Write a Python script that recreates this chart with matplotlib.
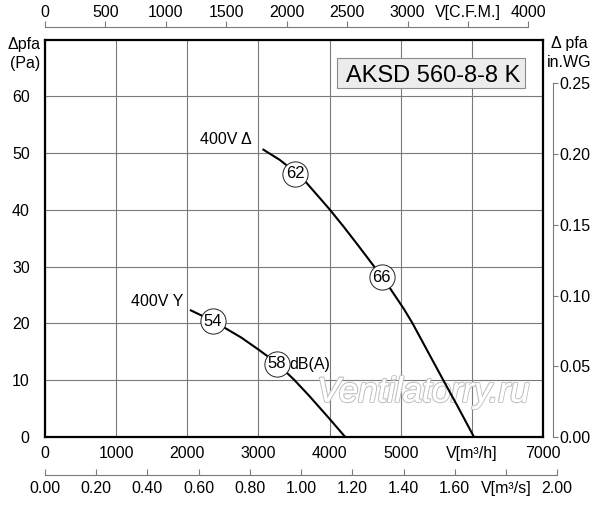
import matplotlib
matplotlib.use('Agg')
import matplotlib.pyplot as plt
import matplotlib.patheffects as pe
from matplotlib.patches import Rectangle

plt.rcParams['font.family'] = ['Liberation Sans', 'DejaVu Sans']

# Kennlinien (V in m3/h, dp in Pa)
delta_x = [3070, 3300, 3520, 3680, 4000, 4200, 4410, 4640, 4860, 5047, 5167, 5400, 5590, 5800, 6030]
delta_y = [50.6, 48.8, 46.6, 44.7, 40.1, 37.0, 33.6, 29.8, 26.0, 22.5, 20.0, 14.6, 10.2, 5.4, 0.0]
stern_x = [2050, 2200, 2355, 2530, 2760, 3000, 3120, 3255, 3400, 3500, 3710, 4000, 4220]
stern_y = [22.3, 21.4, 20.4, 19.2, 17.5, 15.4, 14.3, 12.9, 11.3, 10.1, 7.3, 3.2, 0.0]

# Schallpegel-Marken dB(A)
db_x = [2355, 3255, 3520, 4735]
db_y = [20.4, 12.9, 46.4, 28.1]
db_txt = ['54', '58', '62', '66']

# Achsen
m3h_ticks = [0, 1000, 2000, 3000, 4000, 5000, 6000, 7000]
m3h_labels = ['0', '1000', '2000', '3000', '4000', '5000', 'V[m³/h]', '7000']
pa_ticks = [0, 10, 20, 30, 40, 50, 60]
cfm_ticks = [0, 500, 1000, 1500, 2000, 2500, 3000, 3500, 4000]
cfm_labels = ['0', '500', '1000', '1500', '2000', '2500', '3000', 'V[C.F.M.]', '4000']
m3s_ticks = [0.0, 0.2, 0.4, 0.6, 0.8, 1.0, 1.2, 1.4, 1.6, 1.8, 2.0]
m3s_labels = ['0.00', '0.20', '0.40', '0.60', '0.80', '1.00', '1.20', '1.40', '1.60', 'V[m³/s]', '2.00']
inwg_ticks = [0.0, 0.05, 0.10, 0.15, 0.20, 0.25]

CFM = 1.699    # m3/h pro CFM
INWG = 249.09  # Pa pro in.WG

fs = 11.5
grau = '#7a7a7a'

fig = plt.figure(figsize=(6, 5.05), dpi=100)
ax = fig.add_axes([45 / 600, 1 - 437 / 505, 498 / 600, 397.5 / 505])
ax.set_xlim(0, 7000)
ax.set_ylim(0, 70)

ax.set_xticks(m3h_ticks)
ax.set_xticklabels(m3h_labels)
ax.set_yticks(pa_ticks)
ax.tick_params(axis='both', length=0, labelsize=fs)
ax.tick_params(axis='x', pad=6.5)
ax.tick_params(axis='y', pad=11)
ax.grid(True, color=grau, lw=0.8)
ax.set_axisbelow(True)
for s in ax.spines.values():
    s.set_linewidth(1.6)

# obere Achse CFM
top = ax.secondary_xaxis(1 + 12.5 / 397.5, functions=(lambda v: v / CFM, lambda c: c * CFM))
top.set_xticks(cfm_ticks)
top.set_xticklabels(cfm_labels)
top.tick_params(direction='out', length=4, width=0.8, color=grau, labelsize=fs, pad=1)
top.spines['top'].set_bounds(0, 4000)
top.spines['top'].set_color(grau)
top.spines['top'].set_linewidth(0.8)

# untere Achse m3/s (eigene Achse, reicht bis 2.00 = 7200 m3/h)
m3h_pro_px = 7000 / 498
bot = fig.add_axes([45 / 600, 1 - 475 / 505, (7200 / m3h_pro_px) / 600, 0.002])
bot.set_xlim(0, 2.0)
bot.patch.set_visible(False)
for k in ['top', 'left', 'right']:
    bot.spines[k].set_visible(False)
bot.spines['bottom'].set_color(grau)
bot.spines['bottom'].set_linewidth(0.8)
bot.set_yticks([])
bot.set_xticks(m3s_ticks)
bot.set_xticklabels(m3s_labels)
bot.tick_params(axis='x', direction='in', length=4.3, width=0.8, color=grau, labelsize=fs, pad=4)

# rechte Achse in.WG
rgt = ax.secondary_yaxis(1 + 10 / 498, functions=(lambda p: p / INWG, lambda w: w * INWG))
rgt.set_yticks(inwg_ticks)
rgt.set_yticklabels(['%.2f' % t for t in inwg_ticks])
rgt.tick_params(direction='out', length=3.6, width=0.8, color=grau, labelsize=fs, pad=1)
rgt.spines['right'].set_bounds(0, 0.25)
rgt.spines['right'].set_color(grau)
rgt.spines['right'].set_linewidth(0.8)

fig.text(40 / 600, 1 - 54 / 505, 'Δpfa\n(Pa)', ha='right', va='center', fontsize=fs,
         multialignment='right', linespacing=1.3)
fig.text(569 / 600, 1 - 53 / 505, 'Δ pfa\nin.WG', ha='center', va='center', fontsize=fs,
         multialignment='center', linespacing=1.3)

# Wasserzeichen
ax.text(5320, 7.9, 'Ventilatorry.ru', fontsize=25, style='italic', color='white',
        ha='center', va='center', zorder=2,
        path_effects=[pe.withStroke(linewidth=1.8, foreground='#c4c4c4')])
ax.text(5320, 7.9, 'Ventilatorry.ru', fontsize=25, style='italic', color='white',
        ha='center', va='center', zorder=2.1)

# Kurven
ax.plot(delta_x, delta_y, color='black', lw=1.5, zorder=3)
ax.plot(stern_x, stern_y, color='black', lw=1.5, zorder=3)

ax.scatter(db_x, db_y, s=330, facecolor='white', edgecolor='#222222', linewidths=0.7, zorder=4)
for x, y, t in zip(db_x, db_y, db_txt):
    ax.text(x, y, t, ha='center', va='center', fontsize=fs + 0.5, zorder=5)

ax.text(2905, 52.4, '400V Δ', ha='right', va='center', fontsize=fs)
ax.text(1945, 23.8, '400V Y', ha='right', va='center', fontsize=fs)
ax.text(3440, 12.8, 'dB(A)', ha='left', va='center', fontsize=fs)

# Typenfeld
ax.add_patch(Rectangle((4111, 61.4), 2640, 5.3, facecolor='#ececec', edgecolor='#8a8a8a',
                       lw=0.8, zorder=5))
ax.text(5462, 62.45, 'AKSD 560-8-8 K', ha='center', va='baseline', fontsize=17, zorder=6)

fig.savefig('out.png', dpi=100)
